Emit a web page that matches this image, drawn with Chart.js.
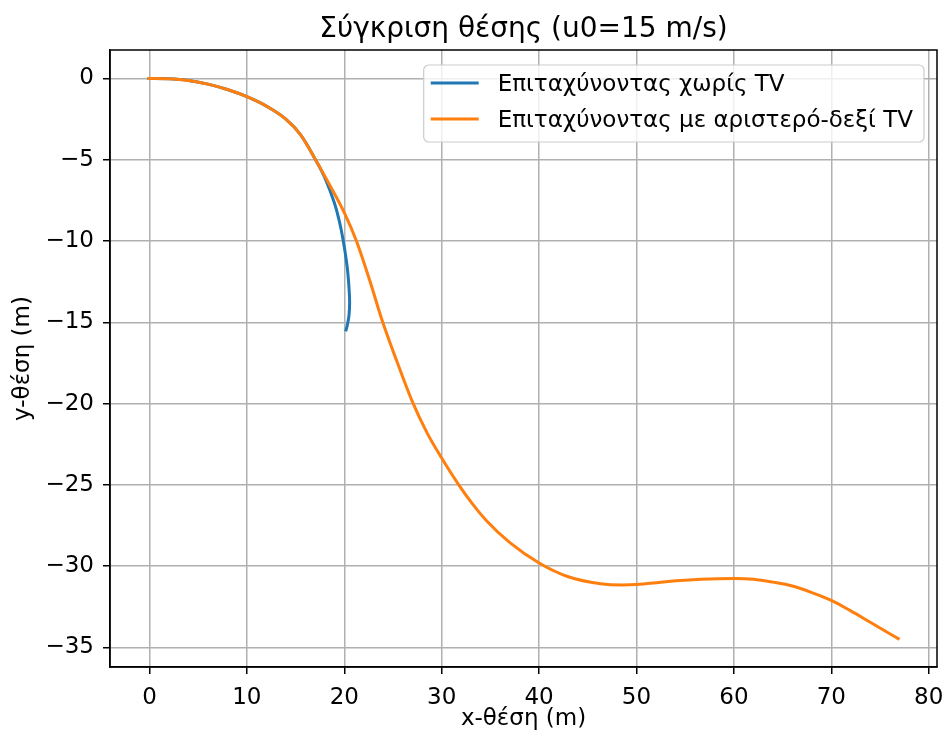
<!DOCTYPE html>
<html lang="el">
<head>
    <meta charset="UTF-8">
    <title>Σύγκριση θέσης</title>
    <script src="https://cdn.jsdelivr.net/npm/chart.js"></script>
    <style>
        body {
            margin: 0;
            padding: 0;
            background: #ffffff;
        }
        #chart-container {
            width: 947px;
            height: 740px;
        }
        canvas {
            display: block;
        }
    </style>
</head>
<body>
    <div id="chart-container">
        <canvas id="position-chart" width="947" height="740"></canvas>
    </div>

    <script>
        // Trajectory without TV (blue)
        const plainX = [-0.2, 2, 4, 6, 8, 10, 12, 14, 15.5, 17.05, 18.0, 18.99, 19.5, 19.9, 20.3, 20.5, 20.55, 20.48, 20.3, 20.15];
        const plainY = [0, -0.02, -0.12, -0.35, -0.68, -1.12, -1.7, -2.5, -3.45, -5.0, -6.1, -7.66, -8.8, -10.0, -11.6, -13.0, -13.8, -14.6, -15.2, -15.55];

        // Trajectory with left-right TV (orange)
        const tvX = [-0.2, 2, 4, 6, 8, 10, 12, 14, 15.5, 17.05, 18.5, 20.0, 21.25, 22.6, 23.95, 25.4, 26.9, 28.5,
                     30.0, 31.7, 33.2, 34.6, 37.0, 40.0, 43.0, 46.3, 48.5, 50.0, 53.0, 56.6, 60.0, 62.0, 64.0, 66.0, 68.0,
                     70.0, 72.0, 74.0, 76.0, 77.0];
        const tvY = [0, -0.02, -0.12, -0.35, -0.68, -1.12, -1.7, -2.5, -3.45, -5.0, -6.55, -8.25, -10.0, -12.4, -15.0, -17.4, -19.75, -21.8,
                     -23.35, -24.95, -26.2, -27.2, -28.55, -29.8, -30.65, -31.08, -31.16, -31.13, -30.95, -30.8, -30.75, -30.8, -30.98, -31.22, -31.62,
                     -32.1, -32.75, -33.45, -34.15, -34.5];

        const seriesLabels = ['Επιταχύνοντας χωρίς TV', 'Επιταχύνοντας με αριστερό-δεξί TV'];
        const seriesColors = ['#1f77b4', '#ff7f0e'];

        const xTicks = [0, 10, 20, 30, 40, 50, 60, 70, 80];
        const yTicks = [-35, -30, -25, -20, -15, -10, -5, 0];

        const FONT = "'DejaVu Sans', sans-serif";
        Chart.defaults.font.family = FONT;
        Chart.defaults.color = '#000000';

        function toPoints(xs, ys) {
            return xs.map((x, i) => ({ x: x, y: ys[i] }));
        }

        // matplotlib style minus sign
        function fmtTick(v) {
            return v < 0 ? '\u2212' + Math.abs(v) : String(v);
        }

        // white background, full frame box and the in-plot legend
        const framePlugin = {
            id: 'frame',
            beforeDraw(chart) {
                const ctx = chart.ctx;
                ctx.save();
                ctx.fillStyle = '#ffffff';
                ctx.fillRect(0, 0, chart.width, chart.height);
                ctx.restore();
            },
            afterDraw(chart) {
                const ctx = chart.ctx;
                const a = chart.chartArea;
                ctx.save();
                ctx.strokeStyle = '#000000';
                ctx.lineWidth = 1.5;
                ctx.strokeRect(a.left, a.top, a.right - a.left, a.bottom - a.top);

                // legend box, upper right
                ctx.font = '23px ' + FONT;
                const textW = Math.max(...seriesLabels.map(t => ctx.measureText(t).width));
                const rowH = 36;
                const boxRight = a.right - 13;
                const boxTop = a.top + 15;
                const textX = boxRight - 11 - textW;
                const lineX2 = textX - 19;
                const lineX1 = lineX2 - 48;
                const boxLeft = lineX1 - 7;
                const boxH = rowH * seriesLabels.length + 5;

                ctx.beginPath();
                ctx.roundRect(boxLeft, boxTop, boxRight - boxLeft, boxH, 5);
                ctx.fillStyle = 'rgba(255,255,255,0.8)';
                ctx.fill();
                ctx.strokeStyle = '#cccccc';
                ctx.lineWidth = 1.2;
                ctx.stroke();

                ctx.textBaseline = 'middle';
                ctx.textAlign = 'left';
                seriesLabels.forEach((label, i) => {
                    const cy = boxTop + 18 + i * rowH;
                    ctx.beginPath();
                    ctx.moveTo(lineX1, cy);
                    ctx.lineTo(lineX2, cy);
                    ctx.strokeStyle = seriesColors[i];
                    ctx.lineWidth = 3;
                    ctx.stroke();
                    ctx.fillStyle = '#000000';
                    ctx.fillText(label, textX, cy + 2);
                });
                ctx.restore();
            }
        };

        const ctx = document.getElementById('position-chart').getContext('2d');
        new Chart(ctx, {
            type: 'line',
            data: {
                datasets: [
                    {
                        label: seriesLabels[0],
                        data: toPoints(plainX, plainY),
                        borderColor: seriesColors[0],
                        backgroundColor: seriesColors[0],
                        borderWidth: 3,
                        pointRadius: 0,
                        tension: 0.4,
                        fill: false,
                        order: 1
                    },
                    {
                        label: seriesLabels[1],
                        data: toPoints(tvX, tvY),
                        borderColor: seriesColors[1],
                        backgroundColor: seriesColors[1],
                        borderWidth: 3,
                        pointRadius: 0,
                        cubicInterpolationMode: 'monotone',
                        fill: false,
                        order: 0
                    }
                ]
            },
            options: {
                responsive: false,
                animation: false,
                layout: {
                    padding: { left: 0, right: 10, top: 0, bottom: 0 }
                },
                plugins: {
                    legend: { display: false },
                    tooltip: { enabled: false },
                    title: {
                        display: true,
                        fullSize: false,
                        text: 'Σύγκριση θέσης (u0=15 m/s)',
                        font: { size: 28, weight: 'normal' },
                        color: '#000000',
                        padding: { top: 13, bottom: 3.4 }
                    }
                },
                scales: {
                    x: {
                        type: 'linear',
                        min: -4.05,
                        max: 80.85,
                        afterBuildTicks: scale => {
                            scale.ticks = xTicks.map(v => ({ value: v }));
                        },
                        afterFit: scale => {
                            scale.height = 73;
                            scale.paddingRight = 0;
                        },
                        ticks: {
                            font: { size: 23 },
                            padding: 10,
                            maxRotation: 0,
                            callback: v => fmtTick(v)
                        },
                        grid: {
                            color: '#b0b0b0',
                            lineWidth: 1.5,
                            tickColor: '#000000',
                            tickLength: 7,
                            tickWidth: 1.5
                        },
                        border: { display: true, color: '#000000', width: 1.5 },
                        title: {
                            display: true,
                            text: 'x-θέση (m)',
                            font: { size: 23 },
                            padding: { top: 0, bottom: 7 }
                        }
                    },
                    y: {
                        type: 'linear',
                        min: -36.2,
                        max: 1.75,
                        afterBuildTicks: scale => {
                            scale.ticks = yTicks.map(v => ({ value: v }));
                        },
                        afterFit: scale => {
                            scale.width = 110;
                        },
                        ticks: {
                            font: { size: 23 },
                            padding: 9,
                            callback: v => fmtTick(v)
                        },
                        grid: {
                            color: '#b0b0b0',
                            lineWidth: 1.5,
                            tickColor: '#000000',
                            tickLength: 7,
                            tickWidth: 1.5
                        },
                        border: { display: true, color: '#000000', width: 1.5 },
                        title: {
                            display: true,
                            text: 'y-θέση (m)',
                            font: { size: 23 },
                            padding: { top: 9, bottom: 0 }
                        }
                    }
                }
            },
            plugins: [framePlugin]
        });
    </script>
</body>
</html>
